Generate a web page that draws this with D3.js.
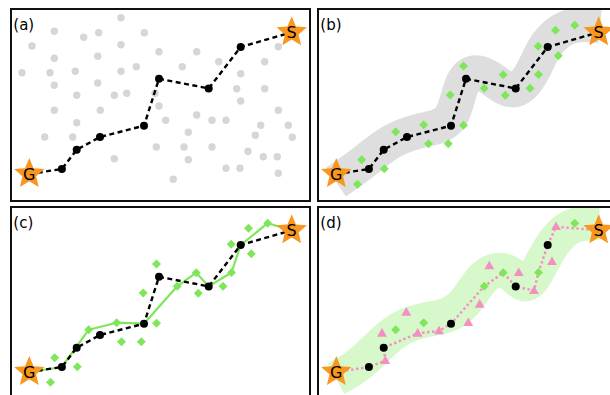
<!DOCTYPE html>
<html>
<head>
<meta charset="utf-8">
<script src="https://cdn.jsdelivr.net/npm/d3@7"></script>
<style>
  html, body { margin: 0; padding: 0; background: #fff; }
  svg { display: block; font-family: "DejaVu Sans", Verdana, sans-serif; }
</style>
</head>
<body>
<svg id="chart" width="610" height="395"></svg>
<script>
// Map coordinates (x to the right, y upwards) inside a 299 x 192 field.

// Waypoints of the coarse route, from the goal G to the start S
const waypointNames = ["G", "p1", "p2", "p3", "p4", "p5", "p6", "p7", "S"];
const waypointX = [18.3, 50.9, 65.7, 89.0, 133.0, 148.0, 197.7, 229.7, 280.7];
const waypointY = [27.0, 32.0, 51.3, 64.0, 75.3, 122.2, 112.6, 154.0, 168.7];

// Waypoints kept in the refined route of panel (d)
const refinedWaypoints = ["G", "p1", "p2", "p4", "p6", "p7", "S"];

// Scattered obstacle-free samples of panel (a)
const sampleX = [110.0, 43.3, 72.7, 87.7, 133.3, 21.0, 110.0, 148.0, 185.7, 267.3,
                 43.3, 86.7, 207.7, 253.7, 11.0, 39.0, 64.3, 110.0, 125.3, 171.3,
                 229.7, 43.3, 86.7, 65.7, 103.3, 115.7, 144.0, 225.7, 253.7, 229.7,
                 43.3, 89.3, 148.0, 185.7, 267.3, 65.7, 154.7, 201.0, 215.0, 249.7,
                 277.3, 33.7, 61.7, 177.3, 244.3, 281.3, 145.3, 173.0, 201.0, 103.3,
                 177.3, 237.0, 252.3, 266.3, 215.0, 229.0, 267.3, 162.3];
const sampleY = [183.3, 169.7, 163.7, 168.3, 168.3, 155.0, 156.3, 149.3, 149.3, 154.3,
                 142.7, 144.7, 139.3, 139.3, 128.3, 128.3, 129.7, 129.7, 134.3, 134.3,
                 127.3, 115.7, 118.0, 105.7, 105.7, 107.7, 107.7, 112.3, 112.3, 100.0,
                 90.7, 90.7, 95.0, 86.0, 90.7, 78.3, 80.7, 80.7, 80.7, 75.7,
                 75.7, 64.0, 64.0, 68.7, 65.7, 63.7, 54.0, 54.0, 54.0, 42.3,
                 41.3, 49.7, 44.3, 44.3, 32.7, 32.7, 27.7, 21.7];

// Samples drawn inside the corridor (green diamonds)
const diamondX = [39.5, 43.7, 66.3, 77.7, 105.7, 110.5, 130.3, 145.5, 132.2, 145.5,
                  166.2, 185.2, 187.3, 212.0, 220.5, 220.2, 240.3, 237.5, 256.7];
const diamondY = [16.8, 41.2, 32.3, 69.3, 76.3, 57.3, 57.3, 75.7, 106.0, 135.0,
                  112.7, 126.3, 105.8, 112.7, 126.5, 154.8, 145.2, 170.7, 175.8];

// Route through the corridor samples (panel c) – diamond indices between waypoints
const greenRoute = ["G", "p1", "d3", "d4", "p4", "d10", "d11", "p6", "d14", "p7", "d18", "S"];
const keptDiamonds = [3, 4, 10, 11, 14, 18];

// Samples of the second corridor (pink triangles)
const triangleX = [67.3, 64.0, 88.3, 99.7, 121.0, 150.3, 161.7, 171.3, 200.7, 216.0, 234.0, 238.0];
const triangleY = [38.3, 65.7, 86.7, 65.7, 68.0, 76.3, 94.7, 133.0, 126.3, 108.3, 137.3, 172.3];
const pinkRoute = ["G", "p1", "t0", "p2", "t3", "t4", "p4", "d10", "d11", "p6", "t9", "d14", "p7", "t11", "S"];

// Centre lines of the two corridors
const corridorBX = [18.0, 34.0, 48.7, 72.0, 98.7, 122.0, 134.7, 140.0, 145.0, 156.0, 172.0, 190.0, 205.0, 217.0, 226.0, 240.7, 258.7, 282.0];
const corridorBY = [19.0, 30.0, 41.0, 60.3, 70.3, 73.7, 83.7, 104.0, 121.3, 131.0, 124.3, 108.7, 113.0, 133.0, 155.0, 170.3, 177.7, 175.3];
const corridorDX = [18.0, 33.0, 45.3, 65.3, 84.0, 105.3, 130.0, 146.7, 158.0, 168.0, 182.3, 196.0, 205.0, 214.3, 224.3, 238.7, 255.3, 282.0];
const corridorDY = [20.3, 28.7, 37.7, 57.7, 72.7, 79.3, 82.3, 94.7, 112.7, 125.3, 130.7, 124.0, 113.0, 117.0, 138.0, 162.3, 175.7, 176.7];

const panelLabels = ["(a)", "(b)", "(c)", "(d)"];

// ---------------------------------------------------------------------------
const PW = 299, PH = 192;
const panelOrigins = [[11, 9], [318, 9], [11, 207], [318, 207]];
const colors = {
  star: "#f8961e", diamond: "#7fe65b", pink: "#f48fc1",
  sample: "#d6d6d6", bandB: "#dedede", bandD: "#d7f8ca"
};

const x = d3.scaleLinear().domain([0, PW]).range([0, PW]);
const y = d3.scaleLinear().domain([0, PH]).range([PH, 0]);

const waypoints = new Map(waypointNames.map((n, i) => [n, [waypointX[i], waypointY[i]]]));
function lookup(key) {
  if (waypoints.has(key)) return waypoints.get(key);
  const i = +key.slice(1);
  if (key[0] === "d") return [diamondX[i], diamondY[i]];
  return [triangleX[i], triangleY[i]];
}

const svg = d3.select("#chart");
const lineGen = d3.line().x(d => x(d[0])).y(d => y(d[1]));
const smoothGen = d3.line().x(d => x(d[0])).y(d => y(d[1])).curve(d3.curveBasis);

const defs = svg.append("defs");
const panels = panelOrigins.map((o, i) => {
  defs.append("clipPath").attr("id", "clip" + i)
    .append("rect").attr("width", PW).attr("height", PH);
  const g = svg.append("g").attr("transform", `translate(${o[0]},${o[1]})`);
  const inner = g.append("g").attr("clip-path", `url(#clip${i})`);
  return { g, inner };
});

function starPath(cx, cy, R, r) {
  const pts = [];
  for (let k = 0; k < 10; k++) {
    const a = -Math.PI / 2 + k * Math.PI / 5;
    const rad = k % 2 === 0 ? R : r;
    pts.push([cx + rad * Math.cos(a), cy + rad * Math.sin(a)]);
  }
  return "M" + pts.map(p => p.join(",")).join("L") + "Z";
}

function drawBand(g, xs, ys, color) {
  g.append("path")
    .attr("d", smoothGen(xs.map((v, i) => [v, ys[i]])))
    .attr("fill", "none").attr("stroke", color)
    .attr("stroke-width", 35).attr("stroke-linecap", "butt").attr("stroke-linejoin", "round");
}

function drawDashedRoute(g, names) {
  g.append("path")
    .attr("d", lineGen(names.map(lookup)))
    .attr("fill", "none").attr("stroke", "#000")
    .attr("stroke-width", 2.4).attr("stroke-dasharray", "5,3.5");
}

function drawDots(g, names) {
  g.selectAll(null).data(names.filter(n => n !== "G" && n !== "S")).join("circle")
    .attr("cx", n => x(lookup(n)[0])).attr("cy", n => y(lookup(n)[1]))
    .attr("r", 4).attr("fill", "#000");
}

function drawDiamonds(g, idx) {
  g.selectAll(null).data(idx).join("path")
    .attr("d", d3.symbol(d3.symbolSquare, 40)())
    .attr("transform", i => `translate(${x(diamondX[i])},${y(diamondY[i])}) rotate(45)`)
    .attr("fill", colors.diamond);
}

function drawEnds(g) {
  [["G", "G"], ["S", "S"]].forEach(([key, label]) => {
    const [px, py] = lookup(key);
    g.append("path").attr("d", starPath(x(px), y(py), 16, 7.2)).attr("fill", colors.star);
    g.append("text").attr("x", x(px)).attr("y", y(py) + 5.8)
      .attr("text-anchor", "middle").attr("font-size", 16).attr("fill", "#000").text(label);
  });
}

const allIdx = d3.range(diamondX.length);

// (a) coarse route among scattered samples
{
  const g = panels[0].inner;
  g.selectAll(null).data(sampleX).join("circle")
    .attr("cx", (d, i) => x(d)).attr("cy", (d, i) => y(sampleY[i]))
    .attr("r", 3.7).attr("fill", colors.sample);
  drawDashedRoute(g, waypointNames);
  drawDots(g, waypointNames);
  drawEnds(g);
}

// (b) corridor around the coarse route, resampled
{
  const g = panels[1].inner;
  drawBand(g, corridorBX, corridorBY, colors.bandB);
  drawDiamonds(g, allIdx);
  drawDashedRoute(g, waypointNames);
  drawDots(g, waypointNames);
  drawEnds(g);
}

// (c) refined route through the corridor samples
{
  const g = panels[2].inner;
  g.append("path").attr("d", lineGen(greenRoute.map(lookup)))
    .attr("fill", "none").attr("stroke", colors.diamond).attr("stroke-width", 2.2)
    .attr("stroke-linejoin", "round");
  drawDiamonds(g, allIdx);
  drawDashedRoute(g, waypointNames);
  drawDots(g, waypointNames);
  drawEnds(g);
}

// (d) second corridor and final route
{
  const g = panels[3].inner;
  drawBand(g, corridorDX, corridorDY, colors.bandD);
  g.append("path").attr("d", lineGen(pinkRoute.map(lookup)))
    .attr("fill", "none").attr("stroke", colors.pink).attr("stroke-width", 2.4)
    .attr("stroke-dasharray", "2.4,2.6");
  g.selectAll(null).data(triangleX).join("path")
    .attr("d", d3.symbol(d3.symbolTriangle, 42)())
    .attr("transform", (d, i) => `translate(${x(d)},${y(triangleY[i]) + 0.5})`)
    .attr("fill", colors.pink);
  drawDiamonds(g, keptDiamonds);
  drawDots(g, refinedWaypoints);
  drawEnds(g);
}

// frames and panel letters
panels.forEach((p, i) => {
  p.g.append("rect").attr("width", PW).attr("height", PH)
    .attr("fill", "none").attr("stroke", "#111").attr("stroke-width", 2);
  p.g.append("text").attr("x", 2.3).attr("y", 21).attr("font-size", 15)
    .attr("fill", "#000").text(panelLabels[i]);
});
</script>
</body>
</html>
